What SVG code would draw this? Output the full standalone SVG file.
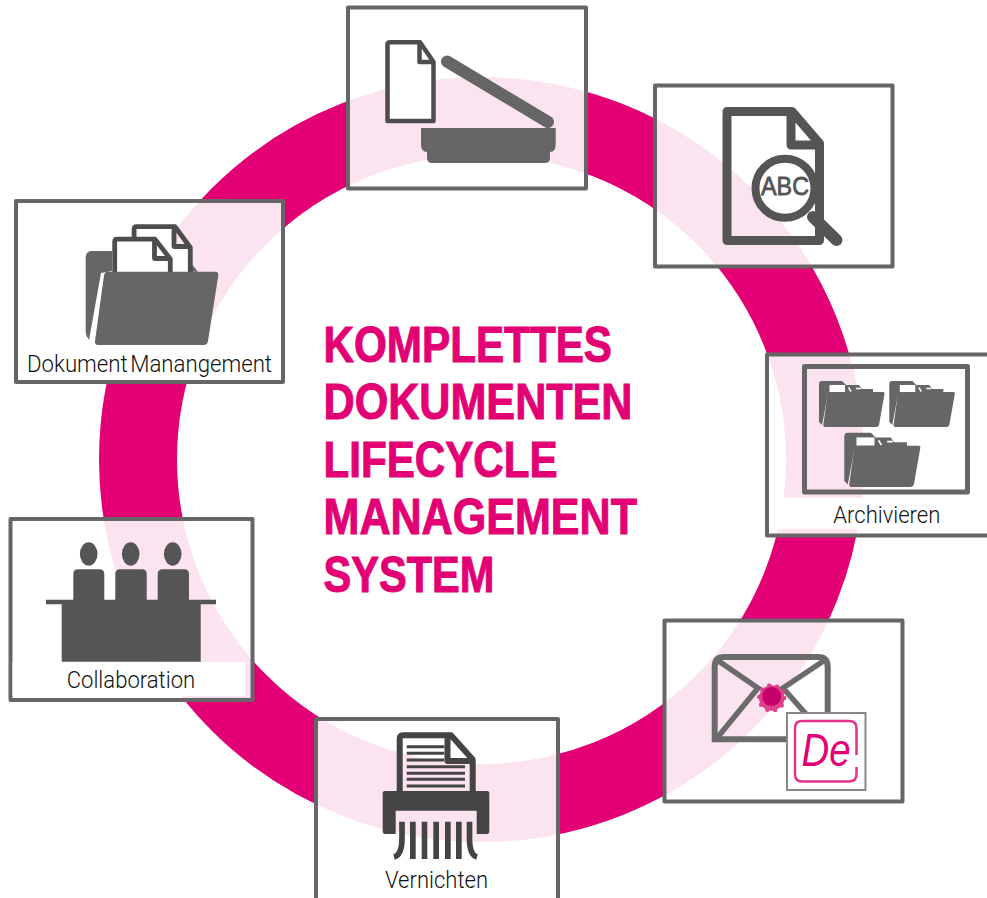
<svg xmlns="http://www.w3.org/2000/svg" width="987" height="898" viewBox="0 0 987 898">
<style>
.box{fill:#fff;fill-opacity:.89;stroke:#666;stroke-width:4;stroke-linejoin:round}
.band{fill:#fff}
.lbl{font-family:"Roboto","Liberation Sans",sans-serif;font-weight:300;font-size:23px;fill:#111}
.title{font-family:"Liberation Sans",sans-serif;font-weight:700;font-size:50px;fill:#e20074;stroke:#e20074;stroke-width:1}
.doc{fill:#fff;stroke:#4d4d4d;stroke-linejoin:round}
.g6{fill:#666}.g5{fill:#555}.g4{fill:#444}
</style>
<defs>
<g id="folder-small">
<path class="g6" d="M819 384Q819 381 822 381H842L846 385H859L862 389H873V393H828L822 425L819 422Z"/>
<rect x="829.500" y="385" width="15.500" height="7" fill="#fff"/>
<path d="M848.500 387.500L851 391.500M856 388.500H861" stroke="#fff" stroke-width="1.500"/>
<path class="g6" d="M829 392H883Q885 392 884.500 394L879 425Q878.500 427 876 427H825Q823 427 823.300 425L827.500 394Q827.700 392 829 392Z"/>
</g>
</defs>
<g id="ring"><circle cx="481.500" cy="459.500" r="343.500" fill="none" stroke="#e20074" stroke-width="78"/></g>
<g id="connectors"></g>
<g id="node-scan">
<rect class="box" x="348" y="7.500" width="238" height="181"/>
<path class="doc" stroke-width="4.500" d="M387.500 121V44.500Q387.500 42.200 390 42.200H420L433.500 62V121ZM419.500 43V62H433"/>
<path d="M447 61.500L548 122" stroke="#666" stroke-width="12" stroke-linecap="round"/>
<path class="g6" d="M421 128H555.700V144Q555.700 152 550 152V158Q550 163 545 163H432Q427 163 427 158V152Q421 152 421 144Z"/>
</g>
<g id="node-ocr">
<rect class="box" x="655" y="85.500" width="237.500" height="181"/>
<path d="M727 111.500H792L819.500 143.500V240.500H727V116Q727 111.500 731 111.500ZM791 112V145H819" fill="none" stroke="#555" stroke-width="9" stroke-linejoin="round"/>
<circle cx="785" cy="188.300" r="29.500" fill="#fff" stroke="#555" stroke-width="8"/>
<path d="M813 217L836.500 240" stroke="#555" stroke-width="12" stroke-linecap="round"/>
<text x="761" y="195" textLength="48" lengthAdjust="spacingAndGlyphs" font-family="Liberation Sans,sans-serif" font-size="26" fill="#555" stroke="#555" stroke-width=".8">ABC</text>
</g>
<g id="node-archive">
<rect class="box" x="767" y="354.500" width="225" height="181"/>
<rect class="band" x="770" y="498" width="217" height="31"/>
<rect x="804.500" y="366.500" width="163" height="125.500" fill="none" stroke="#666" stroke-width="5" stroke-linejoin="round"/>
<use href="#folder-small"/>
<use href="#folder-small" transform="translate(70.300 0)"/>
<use href="#folder-small" transform="translate(844.300 432.700) scale(1.160 1.180) translate(-819 -381)"/>
<text class="lbl" x="833.300" y="522.700" textLength="107" lengthAdjust="spacingAndGlyphs">Archivieren</text>
</g>
<g id="node-demail">
<rect class="box" x="664.500" y="620.500" width="238" height="181"/>
<path d="M714.700 739.300V667Q714.700 657 724 657H818Q827.700 657 827.700 667V739.300Z" fill="none" stroke="#6b6b6b" stroke-width="6"/>
<path d="M717 660L758 688L717 738M825 660L783 688L806 714" fill="none" stroke="#6b6b6b" stroke-width="5.500"/>
<circle cx="771.700" cy="698" r="12.500" fill="#e0408c" stroke="#e0408c" stroke-width="4.500" stroke-linecap="round" stroke-dasharray="0 8"/>
<circle cx="771.700" cy="698" r="12.500" fill="#e0408c"/>
<circle cx="771.700" cy="696.500" r="9.500" fill="#c4006a"/>
<rect x="787" y="713" width="78.500" height="77" fill="#fff" stroke="#888" stroke-width="2"/>
<path d="M856.500 755V728Q856.500 721 849 721H802Q795 721 795 728V774Q795 781.500 802 781.500H849Q856.500 781.500 856.500 774V767" fill="none" stroke="#e5308a" stroke-width="2.500"/>
<text x="801.500" y="766" textLength="49" lengthAdjust="spacingAndGlyphs" font-family="Liberation Sans,sans-serif" font-style="italic" font-size="47" fill="#e20074">De</text>
</g>
<g id="node-shred">
<rect class="box" x="316" y="719" width="242" height="190"/>
<path d="M399.700 792V739Q399.700 735.300 403 735.300H451L472.700 759.500V792M447.500 736V761H472" fill="none" stroke="#444" stroke-width="6" stroke-linejoin="round"/>
<path d="M406.700 746.700H444.300M406.700 753.300H444.300M406.700 760H444.300M406.700 766.700H465M406.700 773.300H465M406.700 779.300H465M406.700 786H465" stroke="#444" stroke-width="3"/>
<path class="g4" d="M385 791H487Q489.300 791 489.300 793V831Q489.300 834 487 834H476.700V810.700H395.700V834H385Q382.700 834 382.700 831V793Q382.700 791 385 791Z"/>
<path class="g4" d="M410 821.700h5.700V859H410ZM421.700 821.700h5.600V859h-5.600ZM433.300 821.700H439V859h-5.700ZM445 821.700h5.700V859H445ZM456 821.700h5.700V859H456Z"/>
<path d="M402 821.700V838Q402 855 394 857M469.500 821.700V838Q469.500 855 477 857" fill="none" stroke="#444" stroke-width="5.700"/>
<text class="lbl" x="385" y="888" textLength="103" lengthAdjust="spacingAndGlyphs">Vernichten</text>
</g>
<g id="node-collab">
<rect class="box" x="10.500" y="519" width="242" height="181"/>
<rect class="band" x="12.500" y="662" width="232.500" height="34"/>
<g class="g5">
<ellipse cx="88.700" cy="554" rx="8.800" ry="11.700"/>
<ellipse cx="130.700" cy="554" rx="8.800" ry="11.700"/>
<ellipse cx="172.700" cy="554" rx="8.800" ry="11.700"/>
<path d="M73.300 601V574Q73.300 569.300 78 569.300H99.500Q104.300 569.300 104.300 574V601ZM115.300 601V574Q115.300 569.300 120 569.300H142Q146.700 569.300 146.700 574V601ZM157.700 601V574Q157.700 569.300 162.500 569.300H184Q189 569.300 189 574V601Z"/>
<path d="M46 599.700H216V604.300H200.700V661.700H61.700V604.300H46Z"/>
</g>
<text class="lbl" x="66.700" y="688" textLength="128.500" lengthAdjust="spacingAndGlyphs">Collaboration</text>
</g>
<g id="node-dms">
<rect class="box" x="16" y="201" width="267" height="181"/>
<rect class="band" x="18" y="345" width="263" height="35"/>
<path class="g6" d="M85.700 258Q85.700 251 92 251H112V271L101 273L89 340Q85.700 336 85.700 332ZM190 262L198 271.700H190Z"/>
<path class="doc" stroke-width="4.800" d="M134.100 272V229Q134.100 226.700 136.500 226.700H175L190.300 247.500V272M174 227V246.500H190"/>
<path class="doc" stroke-width="4.800" d="M114.700 272V241.500Q114.700 239.100 117 239.100H155L170.300 259V272M154.500 239V258.500H170"/>
<path class="g6" d="M108 271.700H215Q219 271.700 218.300 275.500L208 341Q207.500 345 203.500 345H98Q94.500 345 95 341L104 275.500Q104.500 271.700 108 271.700Z"/>
<text class="lbl" x="27" y="371.700" textLength="245" lengthAdjust="spacingAndGlyphs" word-spacing="-3">Dokument Manangement</text>
</g>
<g id="title" class="title">
<text x="323.500" y="361.500" textLength="288.500" lengthAdjust="spacingAndGlyphs">KOMPLETTES</text>
<text x="323.500" y="419" textLength="309" lengthAdjust="spacingAndGlyphs">DOKUMENTEN</text>
<text x="323.500" y="476.500" textLength="234" lengthAdjust="spacingAndGlyphs">LIFECYCLE</text>
<text x="323.500" y="534" textLength="313.500" lengthAdjust="spacingAndGlyphs">MANAGEMENT</text>
<text x="323.500" y="591.500" textLength="171" lengthAdjust="spacingAndGlyphs">SYSTEM</text>
</g>
</svg>
